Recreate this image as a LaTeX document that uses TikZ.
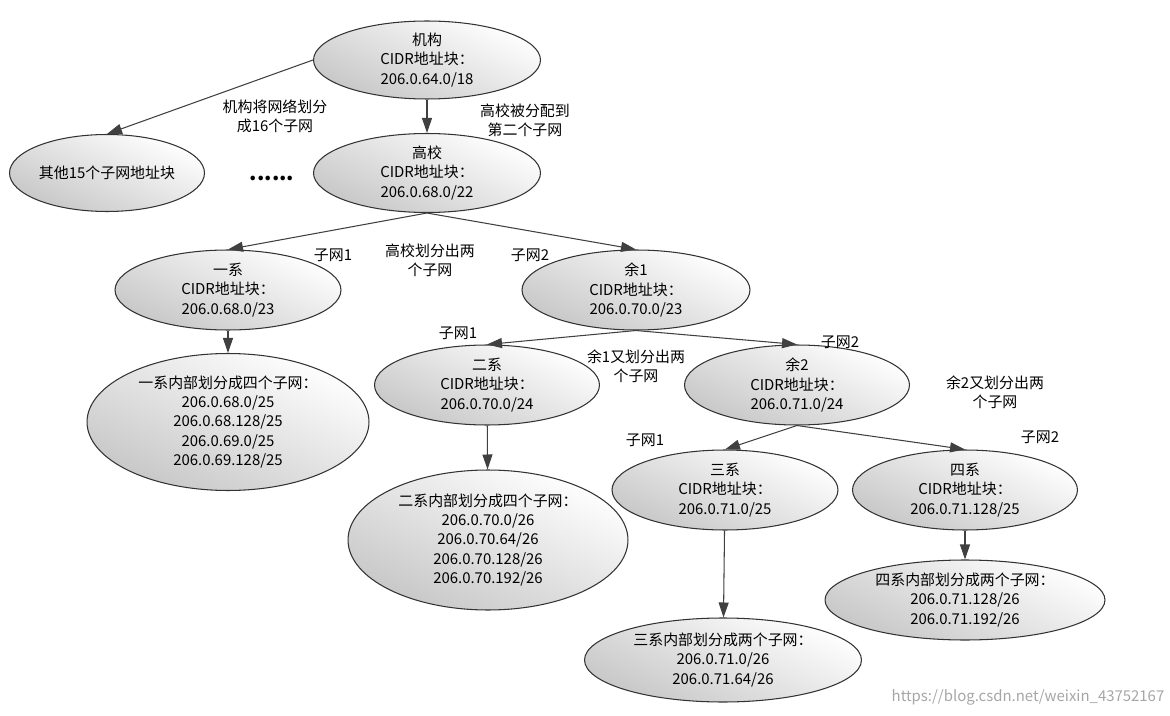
\documentclass[tikz,border=0pt]{standalone}
\usepackage{fontspec}
\setmainfont{Noto Sans CJK SC}
\usetikzlibrary{arrows.meta,shapes.geometric}

\begin{document}
\begin{tikzpicture}[x=0.02cm, y=-0.02cm, >={Triangle[length=3mm,width=2mm]},
    line width=0.6pt, font=\fontsize{8.5}{11}\selectfont,
    main node/.style = {ellipse, draw=black!80, top color=white, bottom color=black!22,
        shading angle=-25, align=center, inner sep=0pt},
    link/.style = {draw=black!75, ->},
    note/.style = {align=center}]
    \useasboundingbox (0,0) rectangle (1170,716);

    \node[main node, minimum width=4.54cm, minimum height=1.56cm] (jg) at (427,60) {机构\\CIDR地址块：\\206.0.64.0/18};
    \node[main node, minimum width=3.9cm, minimum height=1.54cm] (qt) at (107,173) {其他15个子网地址块};
    \node (dots) at (272,178) {\bfseries\large ......};
    \node[main node, minimum width=4.54cm, minimum height=1.58cm] (gx) at (427,173) {高校\\CIDR地址块：\\206.0.68.0/22};

    \node[main node, minimum width=4.52cm, minimum height=1.6cm] (yx) at (228,290) {一系\\CIDR地址块：\\206.0.68.0/23};
    \node[main node, minimum width=4.56cm, minimum height=1.6cm] (y1) at (636,290) {余1\\CIDR地址块：\\206.0.70.0/23};
    \node[main node, minimum width=5.64cm, minimum height=2.74cm] (yxn) at (228,422) {一系内部划分成四个子网：\\206.0.68.0/25\\206.0.68.128/25\\206.0.69.0/25\\206.0.69.128/25};

    \node[main node, minimum width=4.5cm, minimum height=1.6cm] (ex) at (487,385) {二系\\CIDR地址块：\\206.0.70.0/24};
    \node[main node, minimum width=4.5cm, minimum height=1.6cm] (y2) at (797,385) {余2\\CIDR地址块：\\206.0.71.0/24};
    \node[main node, minimum width=5.6cm, minimum height=2.8cm] (exn) at (488,540) {二系内部划分成四个子网：\\206.0.70.0/26\\206.0.70.64/26\\206.0.70.128/26\\206.0.70.192/26};

    \node[main node, minimum width=4.52cm, minimum height=1.6cm] (sx) at (725,490) {三系\\CIDR地址块：\\206.0.71.0/25};
    \node[main node, minimum width=4.5cm, minimum height=1.6cm] (sxx) at (965,490) {四系\\CIDR地址块：\\206.0.71.128/25};
    \node[main node, minimum width=5.54cm, minimum height=1.68cm] (sxn) at (723,660) {三系内部划分成两个子网：\\206.0.71.0/26\\206.0.71.64/26};
    \node[main node, minimum width=5.6cm, minimum height=1.6cm] (sxxn) at (965,600) {四系内部划分成两个子网：\\206.0.71.128/26\\206.0.71.192/26};

    \draw[link] (jg.west) -- (qt.north);
    \draw[link] (jg) -- (gx);
    \draw[link] (gx.south) -- (yx.north);
    \draw[link] (gx.south) -- (y1.north);
    \draw[link] (yx) -- (yxn);
    \draw[link] (y1.south) -- (ex.north);
    \draw[link] (y1.south) -- (y2.north);
    \draw[link] (ex) -- (exn);
    \draw[link] (y2.south) -- (sx.north);
    \draw[link] (y2.south) -- (sxx.north);
    \draw[link] (sx) -- (sxn);
    \draw[link] (sxx) -- (sxxn);

    \node[note] (n1) at (275,116) {机构将网络划分\\成16个子网};
    \node[note] (n2) at (525,120) {高校被分配到\\第二个子网};
    \node[note] (n3) at (430,260) {高校划分出两\\个子网};
    \node (l1) at (333,255) {子网1};
    \node (l2) at (530,255) {子网2};
    \node[note] (n4) at (636,366) {余1又划分出两\\个子网};
    \node (l3) at (458,333) {子网1};
    \node (l4) at (840,342) {子网2};
    \node[note] (n5) at (995,392) {余2又划分出两\\个子网};
    \node (l5) at (645,440) {子网1};
    \node (l6) at (1040,437) {子网2};
    \node[text=black!35] (wm) at (1028,697) {https://blog.csdn.net/weixin\_43752167};
\end{tikzpicture}
\end{document}
